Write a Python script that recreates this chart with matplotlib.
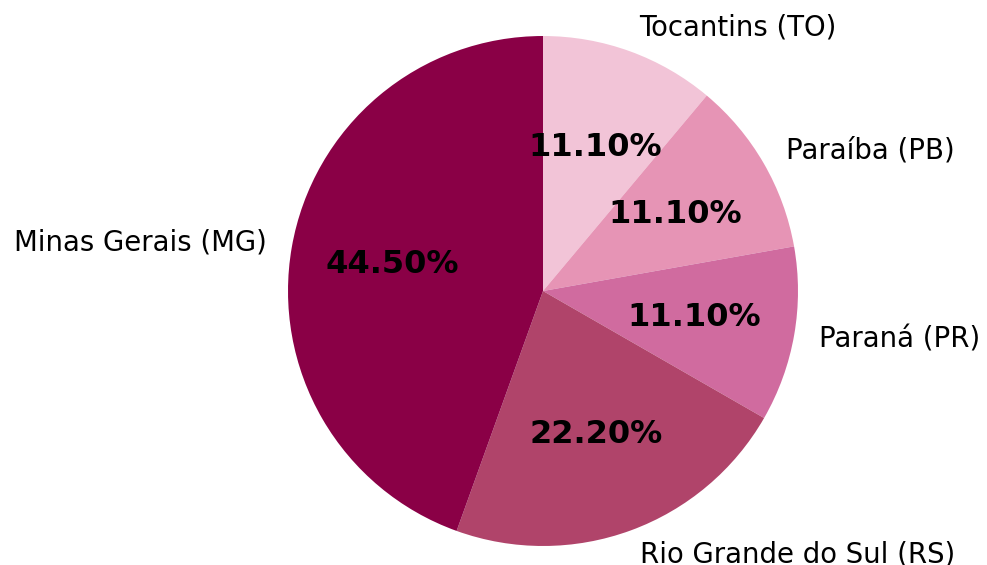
import matplotlib
matplotlib.use("Agg")
import matplotlib.pyplot as plt

# states and share of records (%)
states = ["Tocantins (TO)", "Paraíba (PB)", "Paraná (PR)",
          "Rio Grande do Sul (RS)", "Minas Gerais (MG)"]
shares = [11.1, 11.1, 11.1, 22.2, 44.5]
colors = ["#f2c4d7", "#e694b5", "#d06b9f", "#b0446a", "#8a0046"]

fig = plt.figure(figsize=(987 / 165, 565 / 165), dpi=165)
ax = fig.add_axes([0.2918, 0.0336, 0.5167, 0.9027])

wedges, texts, autotexts = ax.pie(
    shares, labels=states, colors=colors, autopct="%.2f%%",
    startangle=90, counterclock=False, pctdistance=0.6, labeldistance=1.1,
    textprops={"fontsize": 12})
for t in autotexts:
    t.set_fontsize(14)
    t.set_fontweight("bold")
ax.set_xlim(-1, 1)
ax.set_ylim(-1, 1)
ax.set_aspect("equal")

fig.savefig("out.png", dpi=165)
plt.close(fig)
